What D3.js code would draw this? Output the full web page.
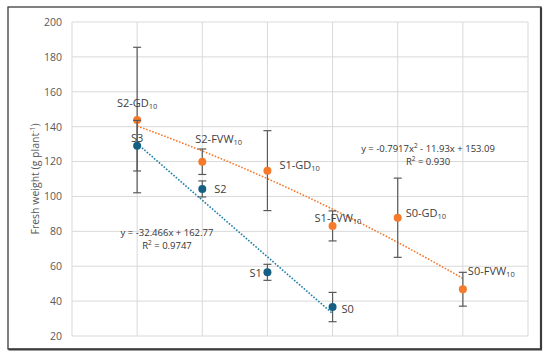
<!doctype html>
<meta charset="utf-8">
<title>Fresh weight</title>
<script src="https://cdn.jsdelivr.net/npm/d3@7"></script>
<style>
  body { margin: 0; background: #fff; }
  svg { font-family: "Open Sans", "Liberation Sans", sans-serif; }
</style>
<body>
<div id="chart"></div>
<script>

// blue series (S treatments)
var blueNames = ['S3', 'S2', 'S1', 'S0']
  , blueX = [1, 2, 3, 4]
  , blueY = [129.1, 104.3, 56.5, 36.6]
  , blueErr = [14.5, 4.6, 4.6, 8.4];

// orange series (GD / FVW treatments)
var orangeNames = ['S2-GD', 'S2-FVW', 'S1-GD', 'S1-FVW', 'S0-GD', 'S0-FVW']
  , orangeX = [1, 2, 3, 4, 5, 6]
  , orangeY = [143.8, 119.9, 114.8, 83.1, 87.8, 46.8]
  , orangeErr = [41.7, 7.3, 22.9, 8.6, 22.7, 9.7];

// trendline coefficients as printed on the chart
var blueFit = [-32.466, 162.77]            // a*x + b
  , orangeFit = [-0.7917, -11.93, 153.09]  // a*x^2 + b*x + c
  , blueEq = ['y = -32.466x + 162.77', '0.9747']
  , orangeEq = ['y = -0.7917x', ' - 11.93x + 153.09', '0.930'];

var yTicks = [20, 40, 60, 80, 100, 120, 140, 160, 180, 200]
  , xGrid = [0, 1, 2, 3, 4, 5, 6, 7];

var W = 550, H = 359
  , blue = '#156082', orange = '#F57A2C'
  , grid = '#d9d9d9', errCol = '#5a5a5a';

var x = d3.scaleLinear().domain([0, 7]).range([72, 528]);
var y = d3.scaleLinear().domain([20, 200]).range([336, 22]);

var svg = d3.select('#chart').append('svg')
  .attr('width', W).attr('height', H);

// gridlines
svg.append('g').selectAll('line.h').data(yTicks).enter().append('line')
  .attr('x1', x(0)).attr('x2', x(7))
  .attr('y1', function(d) { return y(d) }).attr('y2', function(d) { return y(d) })
  .style('stroke', grid).style('stroke-width', 1);
svg.append('g').selectAll('line.v').data(xGrid).enter().append('line')
  .attr('x1', function(d) { return x(d) }).attr('x2', function(d) { return x(d) })
  .attr('y1', y(20)).attr('y2', y(200))
  .style('stroke', grid).style('stroke-width', 1);

// y axis labels
var yAxis = d3.axisLeft(y).tickValues(yTicks).tickSize(0).tickPadding(10);
var ya = svg.append('g').attr('transform', 'translate(' + x(0) + ',0)').call(yAxis);
ya.select('.domain').remove();
ya.selectAll('text').style('font-size', '10.5px').style('fill', '#595959')
  .style('font-family', '"Open Sans", sans-serif');

var yt = svg.append('text')
  .attr('transform', 'translate(39,' + (y(110)) + ') rotate(-90)')
  .attr('text-anchor', 'middle')
  .style('font-size', '10.5px').style('fill', '#595959');
yt.append('tspan').text('Fresh weight (g plant');
yt.append('tspan').attr('dy', -4).style('font-size', '7px').text('-1');
yt.append('tspan').attr('dy', 4).text(')');

// trendlines
function fitLine(xs, f, col) {
  var pts = d3.range(xs[0], xs[1] + 0.001, 0.05).map(function(t) { return [t, f(t)] });
  svg.append('path').datum(pts)
    .attr('d', d3.line().x(function(d) { return x(d[0]) }).y(function(d) { return y(d[1]) }))
    .style('fill', 'none').style('stroke', col).style('stroke-width', 1.6)
    .style('stroke-dasharray', '1.6,1.6');
}
fitLine([1, 4], function(t) { return blueFit[0] * t + blueFit[1] }, '#1f7fa8');
fitLine([1, 6], function(t) { return orangeFit[0] * t * t + orangeFit[1] * t + orangeFit[2] }, orange);

// error bars + points
function series(xs, ys, es, col) {
  var g = svg.append('g');
  xs.forEach(function(xv, i) {
    var top = y(ys[i] + es[i]), bot = y(ys[i] - es[i]), cx = x(xv);
    g.append('line').attr('x1', cx).attr('x2', cx).attr('y1', top).attr('y2', bot)
      .style('stroke', errCol).style('stroke-width', 1.2);
    [top, bot].forEach(function(yy) {
      g.append('line').attr('x1', cx - 4).attr('x2', cx + 4).attr('y1', yy).attr('y2', yy)
        .style('stroke', errCol).style('stroke-width', 1.2);
    });
  });
  g.selectAll('circle').data(xs).enter().append('circle')
    .attr('cx', function(d) { return x(d) })
    .attr('cy', function(d, i) { return y(ys[i]) })
    .attr('r', 4).style('fill', col);
}
series(orangeX, orangeY, orangeErr, orange);
series(blueX, blueY, blueErr, blue);

// point labels: [dx, dy, anchor]
var orangeOff = [[0, -13, 'middle'], [-7, -19, 'start'], [12, -2, 'start'],
                 [-18, -4, 'start'], [8, -1, 'start'], [5, -14, 'start']];
var blueOff = [[0, -4, 'middle'], [12, 4, 'start'], [-18, 5, 'start'], [9, 6, 'start']];

function labels(names, xs, ys, off, sub) {
  names.forEach(function(n, i) {
    var t = svg.append('text')
      .attr('x', x(xs[i]) + off[i][0]).attr('y', y(ys[i]) + off[i][1])
      .attr('text-anchor', off[i][2])
      .style('font-size', '11px').style('fill', '#404040');
    t.append('tspan').text(n);
    if (sub) t.append('tspan').attr('dy', 2).style('font-size', '7.5px').text('10');
  });
}
labels(orangeNames, orangeX, orangeY, orangeOff, true);
labels(blueNames, blueX, blueY, blueOff, false);

// equations
function eq(cx, by, parts, quad) {
  var t = svg.append('text').attr('x', cx).attr('y', by).attr('text-anchor', 'middle')
    .style('font-size', '9.5px').style('fill', '#333');
  if (quad) {
    t.append('tspan').text(parts[0]);
    t.append('tspan').attr('dy', -4).style('font-size', '6.5px').text('2');
    t.append('tspan').attr('dy', 4).text(parts[1]);
  } else {
    t.append('tspan').text(parts[0]);
  }
  var r = svg.append('text').attr('x', cx).attr('y', by + 13).attr('text-anchor', 'middle')
    .style('font-size', '9.5px').style('fill', '#333');
  r.append('tspan').text('R');
  r.append('tspan').attr('dy', -4).style('font-size', '6.5px').text('2');
  r.append('tspan').attr('dy', 4).text(' = ' + parts[parts.length - 1]);
}
eq(428, 152, orangeEq, true);
eq(167, 236, blueEq, false);

// outer frame
svg.append('rect').attr('x', 8).attr('y', 7).attr('width', 533).attr('height', 342)
  .style('fill', 'none').style('stroke', '#3c3c3c').style('stroke-width', 1.3);
svg.append('path').attr('d', 'M541,7.5 V349.5 H8.5')
  .style('fill', 'none').style('stroke', '#3c3c3c').style('stroke-width', 2.2);

</script>
</body>
